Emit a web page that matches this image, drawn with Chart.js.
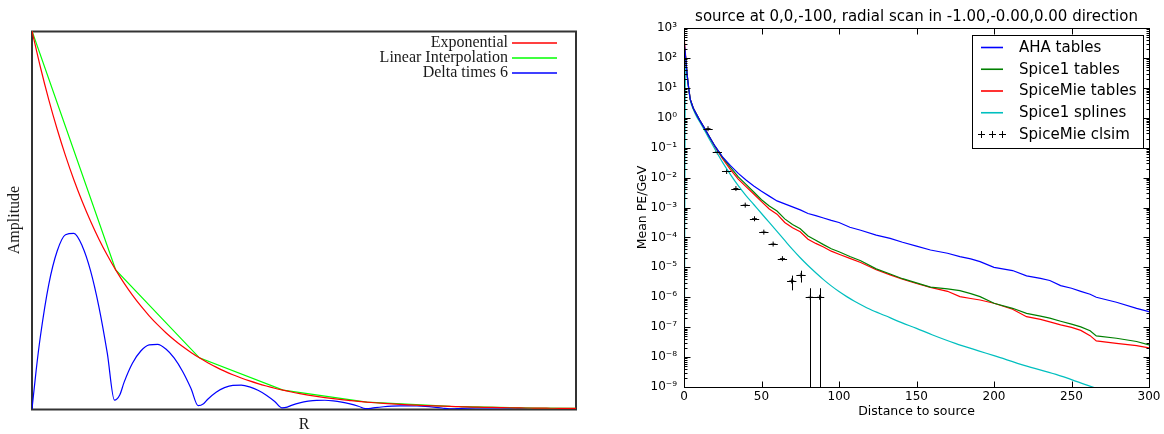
<!DOCTYPE html>
<html>
<head>
<meta charset="utf-8">
<script src="https://cdn.jsdelivr.net/npm/chart.js@4.4.0/dist/chart.umd.min.js"></script>
<style>
  html, body { margin: 0; padding: 0; background: #fff; }
  body { width: 1164px; height: 434px; position: relative; overflow: hidden; }
  canvas { position: absolute; top: 0; }
  #interp { left: 0; }
  #scan { left: 620px; }
</style>
</head>
<body>
<canvas id="interp" width="600" height="434"></canvas>
<canvas id="scan" width="544" height="434"></canvas>
<script>
// ---- left panel: exponential vs. piecewise linear interpolation ----
const expX = [0, 0.1, 0.2, 0.3, 0.4, 0.5, 0.6, 0.7, 0.8, 0.9,
  1, 1.1, 1.2, 1.3, 1.4, 1.5, 1.6, 1.7, 1.8, 1.9,
  2, 2.1, 2.2, 2.3, 2.4, 2.5, 2.6, 2.7, 2.8, 2.9,
  3, 3.1, 3.2, 3.3, 3.4, 3.5, 3.6, 3.7, 3.8, 3.9,
  4, 4.1, 4.2, 4.3, 4.4, 4.5, 4.6, 4.7, 4.8, 4.9,
  5, 5.1, 5.2, 5.3, 5.4, 5.5, 5.6, 5.7, 5.8, 5.9,
  6, 6.1, 6.2, 6.3, 6.4, 6.5];
const expY = [1, 0.9048, 0.8187, 0.7408, 0.6703, 0.6065, 0.5488, 0.4966, 0.4493, 0.4066,
  0.3679, 0.3329, 0.3012, 0.2725, 0.2466, 0.2231, 0.2019, 0.1827, 0.1653, 0.1496,
  0.1353, 0.1225, 0.1108, 0.1003, 0.0907, 0.0821, 0.0743, 0.0672, 0.0608, 0.0550,
  0.0498, 0.0450, 0.0408, 0.0369, 0.0334, 0.0302, 0.0273, 0.0247, 0.0224, 0.0202,
  0.0183, 0.0166, 0.0150, 0.0136, 0.0123, 0.0111, 0.0101, 0.0091, 0.0082, 0.0074,
  0.0067, 0.0061, 0.0055, 0.0050, 0.0045, 0.0041, 0.0037, 0.0033, 0.0030, 0.0027,
  0.0025, 0.0022, 0.0020, 0.0018, 0.0017, 0.0015];
const linX = [0, 1, 2, 3, 4, 5, 6, 6.5];
const linY = [1, 0.3679, 0.1353, 0.0498, 0.0183, 0.0067, 0.0025, 0.0017];
const deltaX = [0, 0.05, 0.1, 0.2, 0.3, 0.4, 0.5, 0.6, 0.7, 0.8, 0.9, 0.985,
  1.05, 1.1, 1.2, 1.3, 1.4, 1.5, 1.6, 1.7, 1.8, 1.9, 1.985,
  2.05, 2.1, 2.2, 2.3, 2.4, 2.5, 2.6, 2.7, 2.8, 2.9, 2.985,
  3.05, 3.1, 3.2, 3.3, 3.4, 3.5, 3.6, 3.7, 3.8, 3.9, 3.985,
  4.05, 4.1, 4.2, 4.3, 4.4, 4.5, 4.6, 4.7, 4.8, 4.9, 4.985,
  5.05, 5.1, 5.2, 5.3, 5.4, 5.5, 5.6, 5.7, 5.8, 5.9, 5.985,
  6.05, 6.1, 6.2, 6.3, 6.4, 6.5];
const deltaY = [0, 0.1030, 0.1917, 0.3291, 0.4173, 0.4610, 0.4645, 0.4315, 0.3656, 0.2698, 0.1471, 0.0235,
  0.0379, 0.0705, 0.1211, 0.1535, 0.1696, 0.1709, 0.1587, 0.1345, 0.0993, 0.0541, 0.0087,
  0.0139, 0.0259, 0.0445, 0.0565, 0.0624, 0.0629, 0.0584, 0.0495, 0.0365, 0.0199, 0.0032,
  0.0051, 0.0095, 0.0164, 0.0208, 0.0230, 0.0231, 0.0215, 0.0182, 0.0134, 0.0073, 0.0012,
  0.0019, 0.0035, 0.0060, 0.0076, 0.0084, 0.0085, 0.0079, 0.0067, 0.0049, 0.0027, 0.0004,
  0.0007, 0.0013, 0.0022, 0.0028, 0.0031, 0.0031, 0.0029, 0.0025, 0.0018, 0.0010, 0.0002,
  0.0003, 0.0005, 0.0008, 0.0010, 0.0011, 0.0012];

// ---- right panel: mean PE per GeV along the radial scan ----
const tableDist = [0, 1, 2, 3, 4, 6, 8, 10, 13, 16, 20, 25, 30, 35, 40, 45, 50, 55, 60, 65,
  70, 75, 80, 85, 90, 95, 100, 107, 114, 124, 133, 141, 150, 159, 170, 178, 185, 191, 200,
  212, 221, 230, 236, 243, 250, 256, 262, 266, 279, 292, 300];
const ahaTables = [400, 112, 28.2, 10, 4.17, 2.09, 1.32, 0.851, 0.468, 0.251, 0.112, 0.0479,
  0.0251, 0.0138, 8.3e-3, 5.25e-3, 3.47e-3, 2.4e-3, 1.66e-3, 1.32e-3, 1.05e-3, 8.3e-4, 6.3e-4,
  5.37e-4, 4.47e-4, 3.72e-4, 3.16e-4, 2.19e-4, 1.74e-4, 1.2e-4, 9.3e-5, 6.9e-5, 5.1e-5, 3.8e-5,
  2.95e-5, 2.29e-5, 1.91e-5, 1.55e-5, 1.0e-5, 7.8e-6, 5.2e-6, 4.27e-6, 3.63e-6, 2.45e-6, 2.0e-6,
  1.58e-6, 1.26e-6, 1.0e-6, 6.8e-7, 4.27e-7, 3.3e-7];
const spice1Tables = [316, 112, 28.2, 10, 4.17, 2.09, 1.32, 0.851, 0.468, 0.251, 0.112, 0.0468,
  0.0219, 0.0105, 5.9e-3, 3.31e-3, 1.82e-3, 1.12e-3, 7.6e-4, 4.17e-4, 2.69e-4, 1.95e-4, 1.12e-4,
  8.1e-5, 5.75e-5, 4.17e-5, 3.31e-5, 2.29e-5, 1.66e-5, 8.9e-6, 6.0e-6, 4.17e-6, 3.02e-6, 2.19e-6,
  1.91e-6, 1.66e-6, 1.32e-6, 1.05e-6, 6.3e-7, 4.27e-7, 2.88e-7, 2.34e-7, 2.0e-7, 1.58e-7, 1.26e-7,
  1.02e-7, 7.6e-8, 5.1e-8, 4.27e-8, 3.31e-8, 2.57e-8];
const spiceMieTables = [562, 126, 28.2, 10, 4.17, 2.09, 1.32, 0.851, 0.468, 0.251, 0.107, 0.0417,
  0.0186, 8.9e-3, 5.0e-3, 2.82e-3, 1.58e-3, 8.9e-4, 6.0e-4, 3.16e-4, 2.09e-4, 1.55e-4, 8.7e-5,
  6.3e-5, 4.79e-5, 3.47e-5, 2.75e-5, 2.0e-5, 1.45e-5, 8.3e-6, 5.6e-6, 3.98e-6, 2.88e-6, 2.14e-6,
  1.58e-6, 1.05e-6, 9.1e-7, 8.1e-7, 6.3e-7, 3.98e-7, 2.24e-7, 1.82e-7, 1.51e-7, 1.2e-7, 9.8e-8,
  7.8e-8, 5.2e-8, 3.47e-8, 2.88e-8, 2.4e-8, 2.04e-8];
const splineDist = [0, 1, 2, 3, 4, 6, 8, 10, 13, 16, 20, 25, 30, 35, 40, 45, 50, 55, 60, 65, 70,
  75, 80, 85, 90, 95, 100, 105, 110, 120, 130, 140, 150, 160, 175, 190, 200, 220, 240, 260, 280, 300];
const spice1Splines = [1e-12, 100, 26.3, 9.3, 3.98, 1.91, 1.12, 0.759, 0.398, 0.209, 0.0891,
  0.0316, 0.0126, 5.4e-3, 2.51e-3, 1.26e-3, 6.3e-4, 3.16e-4, 1.58e-4, 7.9e-5, 3.98e-5, 2.09e-5,
  1.15e-5, 6.6e-6, 3.89e-6, 2.4e-6, 1.55e-6, 1.05e-6, 7.4e-7, 3.98e-7, 2.4e-7, 1.45e-7, 9.1e-8,
  5.6e-8, 2.88e-8, 1.62e-8, 1.12e-8, 5.2e-9, 2.63e-9, 1.15e-9, 5.2e-10, 2.4e-10];
const clsimDist = [15.5, 21.5, 27.5, 33.5, 39.5, 45.5, 51.5, 57.5, 63.5, 69.5, 75.5, 81.5, 87.5];
const clsimMean = [0.43, 0.072, 0.016, 0.0043, 1.2e-3, 4.2e-4, 1.5e-4, 6.0e-5, 1.95e-5, 3.5e-6,
  5.4e-6, 1e-6, 1e-6];
const clsimErr = [0.004, 8e-4, 2e-4, 6e-5, 2e-5, 8e-6, 4e-6, 2e-6, 1.2e-6, 1.8e-6, 2.3e-6, 1e-6, 1e-6];
const clsimHalfBin = [3, 3, 3, 3, 3, 3, 3, 3, 3, 3, 3, 3, 3];

const xTickValues = [0, 50, 100, 150, 200, 250, 300];
const yTickValues = [1e-9, 1e-8, 1e-7, 1e-6, 1e-5, 1e-4, 1e-3, 1e-2, 1e-1, 1, 10, 100, 1000];
const yTickLabels = ['10⁻⁹', '10⁻⁸', '10⁻⁷', '10⁻⁶', '10⁻⁵', '10⁻⁴', '10⁻³', '10⁻²', '10⁻¹',
  '10⁰', '10¹', '10²', '10³'];

const pts = (xs, ys) => xs.map((x, i) => ({ x, y: ys[i] }));

const SERIF = '"Liberation Serif", "DejaVu Serif", serif';
const SANS = '"DejaVu Sans", sans-serif';

// frame behind the curves, key drawn on top
const interpDecor = {
  id: 'interpDecor',
  beforeDatasetsDraw(chart) {
    const { ctx, chartArea: a } = chart;
    ctx.save();
    ctx.strokeStyle = '#333';
    ctx.lineWidth = 2;
    ctx.strokeRect(a.left, a.top + 0.5, a.right - a.left, a.bottom - a.top);
    ctx.restore();
  },
  afterDatasetsDraw(chart) {
    const { ctx, chartArea: a } = chart;
    ctx.save();
    ctx.font = '16px ' + SERIF;
    ctx.textAlign = 'right';
    ctx.textBaseline = 'middle';
    chart.data.datasets.forEach((ds, i) => {
      const y = a.top + 12 + i * 15;
      ctx.fillStyle = '#1a1a1a';
      ctx.fillText(ds.label, a.right - 68, y);
      ctx.strokeStyle = ds.borderColor;
      ctx.lineWidth = 1.5;
      ctx.beginPath();
      ctx.moveTo(a.right - 64, y);
      ctx.lineTo(a.right - 19, y);
      ctx.stroke();
    });
    ctx.restore();
  }
};

new Chart(document.getElementById('interp'), {
  type: 'line',
  data: {
    datasets: [
      { label: 'Exponential', data: pts(expX, expY), borderColor: '#ff0000', cubicInterpolationMode: 'monotone' },
      { label: 'Linear Interpolation', data: pts(linX, linY), borderColor: '#00ff00' },
      { label: 'Delta times 6', data: pts(deltaX, deltaY), borderColor: '#0000ff', cubicInterpolationMode: 'monotone' }
    ]
  },
  options: {
    responsive: false,
    animation: false,
    devicePixelRatio: 1,
    datasets: { line: { borderWidth: 1.2, pointRadius: 0 } },
    layout: { padding: { top: 31, right: 24, left: 0, bottom: 0 } },
    plugins: { legend: { display: false }, tooltip: { enabled: false } },
    scales: {
      x: {
        type: 'linear', min: 0, max: 6.5,
        ticks: { display: false },
        grid: { display: false, drawTicks: false },
        border: { display: false },
        title: { display: true, text: 'R', color: '#1a1a1a', font: { family: SERIF, size: 16 }, padding: { top: 0, bottom: 0 } },
        afterFit: s => { s.height = 25; }
      },
      y: {
        min: 0, max: 1,
        ticks: { display: false },
        grid: { display: false, drawTicks: false },
        border: { display: false },
        title: { display: true, text: 'Amplitude', color: '#1a1a1a', font: { family: SERIF, size: 16 }, padding: { top: 5, bottom: 0 } },
        afterFit: s => { s.width = 32; }
      }
    }
  },
  plugins: [interpDecor]
});

// error bars, inward ticks on all four sides, and the boxed key
const scanDecor = {
  id: 'scanDecor',
  afterDatasetsDraw(chart) {
    const { ctx, chartArea: a, scales: { x, y } } = chart;
    ctx.save();
    ctx.beginPath();
    ctx.rect(a.left, a.top, a.right - a.left, a.bottom - a.top);
    ctx.clip();
    ctx.strokeStyle = '#000';
    ctx.lineWidth = 1;
    ctx.beginPath();
    clsimDist.forEach((d, i) => {
      const py = Math.round(y.getPixelForValue(clsimMean[i])) + 0.5;
      ctx.moveTo(x.getPixelForValue(d - clsimHalfBin[i]), py);
      ctx.lineTo(x.getPixelForValue(d + clsimHalfBin[i]), py);
      const px = Math.round(x.getPixelForValue(d)) + 0.5;
      const lo = clsimMean[i] - clsimErr[i];
      ctx.moveTo(px, y.getPixelForValue(clsimMean[i] + clsimErr[i]));
      ctx.lineTo(px, lo > 0 ? y.getPixelForValue(lo) : a.bottom + 5);
    });
    ctx.stroke();
    ctx.restore();

    ctx.save();
    ctx.strokeStyle = '#000';
    ctx.lineWidth = 1;
    const L = a.left + 0.5, R = a.right + 0.5, T = a.top + 0.5, B = a.bottom + 0.5;
    ctx.strokeRect(L, T, R - L, B - T);
    ctx.beginPath();
    xTickValues.forEach(v => {
      const px = Math.round(x.getPixelForValue(v)) + 0.5;
      ctx.moveTo(px, B); ctx.lineTo(px, B - 6);
      ctx.moveTo(px, T); ctx.lineTo(px, T + 6);
    });
    yTickValues.forEach((v, i) => {
      const py = Math.round(y.getPixelForValue(v)) + 0.5;
      ctx.moveTo(L, py); ctx.lineTo(L + 6, py);
      ctx.moveTo(R, py); ctx.lineTo(R - 6, py);
      if (i === yTickValues.length - 1) return;
      for (let m = 2; m <= 9; m++) {
        const pm = Math.round(y.getPixelForValue(v * m)) + 0.5;
        ctx.moveTo(L, pm); ctx.lineTo(L + 3, pm);
        ctx.moveTo(R, pm); ctx.lineTo(R - 3, pm);
      }
    });
    ctx.stroke();

    // key
    const kx = 352, ky = 35, kw = 171, kh = 113;
    ctx.fillStyle = '#fff';
    ctx.fillRect(kx, ky, kw, kh);
    ctx.strokeRect(kx + 0.5, ky + 0.5, kw, kh);
    ctx.font = '15px ' + SANS;
    ctx.textAlign = 'left';
    ctx.textBaseline = 'middle';
    chart.data.datasets.forEach((ds, i) => {
      const ry = ky + 12 + i * 21.75;
      if (ds.showLine === false) {
        ctx.strokeStyle = '#000';
        ctx.beginPath();
        [kx + 9, kx + 20, kx + 30].forEach(cx => {
          ctx.moveTo(cx - 3, ry + 0.5); ctx.lineTo(cx + 4, ry + 0.5);
          ctx.moveTo(cx + 0.5, ry - 3); ctx.lineTo(cx + 0.5, ry + 4);
        });
        ctx.stroke();
      } else {
        ctx.strokeStyle = ds.borderColor;
        ctx.lineWidth = 1.6;
        ctx.beginPath();
        ctx.moveTo(kx + 9, ry + 0.5); ctx.lineTo(kx + 31, ry + 0.5);
        ctx.stroke();
        ctx.lineWidth = 1;
      }
      ctx.fillStyle = '#000';
      ctx.fillText(ds.label, kx + 47, ry + 1);
    });
    ctx.restore();
  }
};

new Chart(document.getElementById('scan'), {
  type: 'line',
  data: {
    datasets: [
      { label: 'AHA tables', data: pts(tableDist, ahaTables), borderColor: '#0000ff' },
      { label: 'Spice1 tables', data: pts(tableDist, spice1Tables), borderColor: '#008000' },
      { label: 'SpiceMie tables', data: pts(tableDist, spiceMieTables), borderColor: '#ff0000' },
      { label: 'Spice1 splines', data: pts(splineDist, spice1Splines), borderColor: '#00bfbf', cubicInterpolationMode: 'monotone' },
      {
        label: 'SpiceMie clsim', data: pts(clsimDist, clsimMean), showLine: false,
        pointStyle: 'cross', pointRadius: 2.5, borderColor: '#000', backgroundColor: '#000', pointBorderWidth: 1
      }
    ]
  },
  options: {
    responsive: false,
    animation: false,
    devicePixelRatio: 1,
    datasets: { line: { borderWidth: 1.2, pointRadius: 0 } },
    layout: { padding: { top: 0, right: 15, left: 0, bottom: 0 } },
    plugins: {
      legend: { display: false },
      tooltip: { enabled: false },
      title: {
        display: true, fullSize: false, color: '#000',
        text: 'source at 0,0,-100, radial scan in -1.00,-0.00,0.00 direction',
        font: { family: SANS, size: 15, weight: 'normal' },
        padding: { top: 8, bottom: 2 }
      }
    },
    scales: {
      x: {
        type: 'linear', min: 0, max: 300,
        afterBuildTicks: s => { s.ticks = xTickValues.map(v => ({ value: v })); },
        ticks: { color: '#000', font: { family: SANS, size: 12 }, padding: 2.5, maxRotation: 0, autoSkip: false },
        grid: { display: false, drawTicks: false },
        border: { display: false },
        title: { display: true, text: 'Distance to source', color: '#000', font: { family: SANS, size: 12.5 }, padding: { top: 0, bottom: 15 } },
        afterFit: s => { s.height = 47; }
      },
      y: {
        type: 'logarithmic', min: 1e-9, max: 1e3,
        afterBuildTicks: s => { s.ticks = yTickValues.map(v => ({ value: v })); },
        ticks: { color: '#000', font: { family: SANS, size: 12 }, padding: 7, autoSkip: false, callback: (v, i) => yTickLabels[i] },
        grid: { display: false, drawTicks: false },
        border: { display: false },
        title: { display: true, text: 'Mean PE/GeV', color: '#000', font: { family: SANS, size: 12.5 }, padding: { top: 15, bottom: 0 } },
        afterFit: s => { s.width = 64; }
      }
    }
  },
  plugins: [scanDecor]
});
</script>
</body>
</html>
